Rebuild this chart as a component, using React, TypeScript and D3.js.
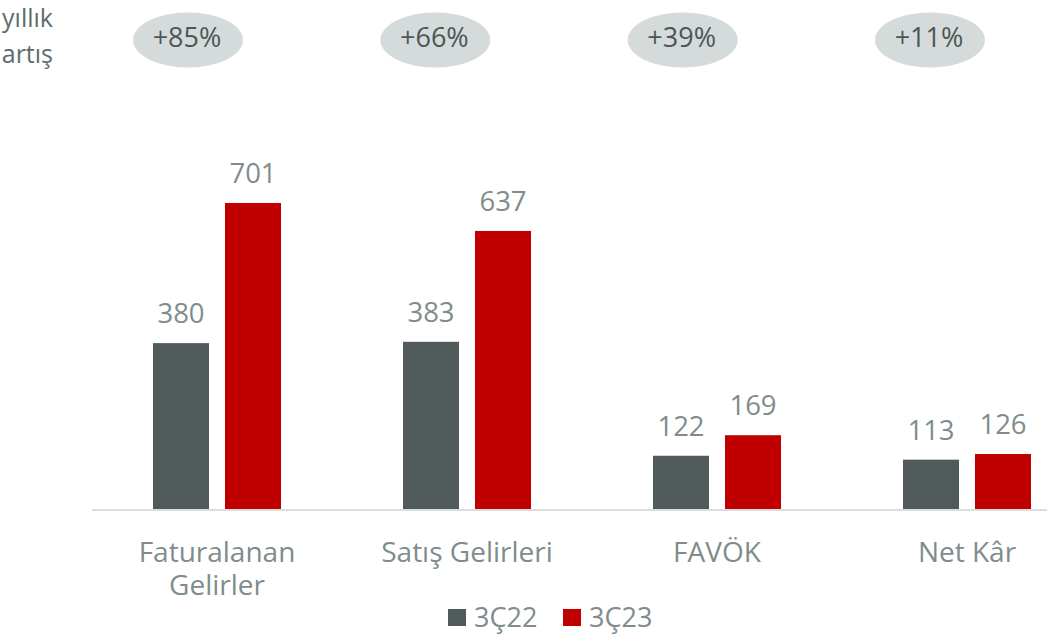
import React from "react";
import * as d3 from "d3";

const categories = ["Faturalanan Gelirler", "Satış Gelirleri", "FAVÖK", "Net Kâr"];
const categoryLines = [["Faturalanan", "Gelirler"], ["Satış Gelirleri"], ["FAVÖK"], ["Net Kâr"]];
const series = ["3Ç22", "3Ç23"];
const values3Q22 = [380, 383, 122, 113];
const values3Q23 = [701, 637, 169, 126];
const growthLabels = ["+85%", "+66%", "+39%", "+11%"];
const sideLabel = ["yıllık", "artış"];

const W = 1047;
const H = 634;
const FONT = "'Open Sans', 'Noto Sans', sans-serif";
const colors = ["#515A5B", "#C00000"];
const labelColor = "#7F8C8D";

export default function App() {
  const baseline = 509;
  const x0 = d3.scaleBand<string>().domain(categories).range([92, 1092]).padding(0);
  const x1 = d3.scaleBand<string>().domain(series).range([61, 189]).paddingInner(0.222).paddingOuter(0);
  const y = d3.scaleLinear().domain([0, 701]).range([baseline, 203]);
  const xe = d3.scalePoint<string>().domain(categories).range([188, 930]);
  const seriesValues = [values3Q22, values3Q23];

  return (
    <svg width={W} height={H} style={{ position: "absolute", left: 0, top: 0, background: "#fff" }} fontFamily={FONT}>
      {/* side label */}
      {sideLabel.map((t, i) => (
        <text key={t} x={53} y={27 + i * 36} textAnchor="end" fontSize={25} fill="#5D6D6E">{t}</text>
      ))}
      {/* growth ellipses */}
      {categories.map((c, i) => {
        const cx = xe(c) as number;
        return (
          <g key={"g" + c}>
            <ellipse cx={cx} cy={40} rx={55} ry={27.5} fill="#D5DBDB" />
            <text x={cx - 1} y={47} textAnchor="middle" fontSize={27} fill="#4D5656">{growthLabels[i]}</text>
          </g>
        );
      })}
      {/* bars */}
      {categories.map((c, i) => (
        <g key={"b" + c} transform={`translate(${x0(c)},0)`}>
          {series.map((s, j) => {
            const v = seriesValues[j][i];
            const bx = x1(s) as number;
            return (
              <g key={s}>
                <rect x={bx} y={y(v)} width={x1.bandwidth()} height={baseline - y(v)} fill={colors[j]} />
                <text x={bx + x1.bandwidth() / 2} y={y(v) - 20} textAnchor="middle" fontSize={27.5} fill={labelColor}>{v}</text>
              </g>
            );
          })}
        </g>
      ))}
      {/* axis line */}
      <line x1={92} x2={W} y1={baseline + 1} y2={baseline + 1} stroke="#D9DEDE" strokeWidth={2} />
      {/* category labels */}
      {categories.map((c, i) => {
        const cx = (x0(c) as number) + x0.bandwidth() / 2;
        return (
          <text key={"l" + c} x={cx} y={562} textAnchor="middle" fontSize={28} fill={labelColor}>
            {categoryLines[i].map((ln, k) => (
              <tspan key={k} x={cx} dy={k === 0 ? 0 : 33}>{ln}</tspan>
            ))}
          </text>
        );
      })}
      {/* legend */}
      {series.map((s, j) => {
        const lx = 448 + j * 115;
        return (
          <g key={"lg" + s}>
            <rect x={lx} y={609} width={18} height={17} fill={colors[j]} />
            <text x={lx + 26} y={627} fontSize={27} fill={labelColor}>{s}</text>
          </g>
        );
      })}
    </svg>
  );
}
